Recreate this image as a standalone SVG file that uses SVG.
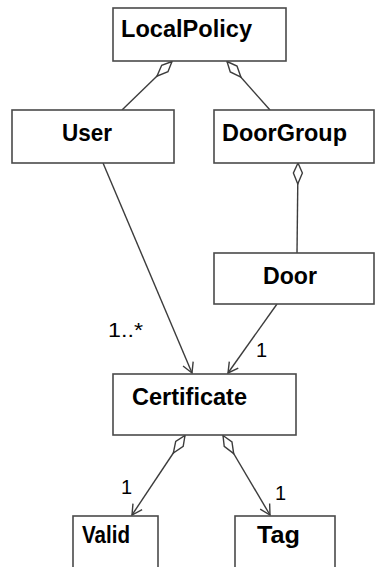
<svg xmlns="http://www.w3.org/2000/svg" width="376" height="567" viewBox="0 0 376 567">
  <style>
    .box { fill: #ffffff; stroke: #4a4a4a; stroke-width: 1.6; }
    .name { font-family: "Liberation Sans", Arial, sans-serif; font-weight: bold; font-size: 23.5px; fill: #000000; }
    .mult { font-family: "Liberation Sans", Arial, sans-serif; font-size: 20px; fill: #000000; }
    .link { fill: none; stroke: #3c3c3c; stroke-width: 1.4; }
  </style>
  <defs>
    <!-- open aggregation diamond, drawn at the whole end of a link -->
    <marker id="agg" markerUnits="userSpaceOnUse" markerWidth="24" markerHeight="12" viewBox="-1 -6 24 12" refX="0" refY="0" orient="auto">
      <path d="M0,0 L10,-4.5 L21,0 L10,4.5 Z" fill="#ffffff" stroke="#3c3c3c" stroke-width="1.4"/>
    </marker>
    <!-- open navigation arrowhead -->
    <marker id="nav" markerUnits="userSpaceOnUse" markerWidth="14" markerHeight="14" viewBox="-12 -7 14 14" refX="0" refY="0" orient="auto">
      <path d="M-10,-5.5 L0,0 L-10,5.5" fill="none" stroke="#3c3c3c" stroke-width="1.4"/>
    </marker>
  </defs>

  <rect width="376" height="567" fill="#ffffff"/>

  <g id="connectors">
    <path class="link" d="M172,61.5 L122,110" marker-start="url(#agg)"/>
    <path class="link" d="M227,61.5 L270,110" marker-start="url(#agg)"/>
    <path class="link" d="M298,163 L297,253" marker-start="url(#agg)"/>
    <path class="link" d="M103,163 L192,373" marker-end="url(#nav)"/>
    <path class="link" d="M277,304 L228,373" marker-end="url(#nav)"/>
    <path class="link" d="M185,435.5 L132,515" marker-start="url(#agg)" marker-end="url(#nav)"/>
    <path class="link" d="M223,435.5 L270,515" marker-start="url(#agg)" marker-end="url(#nav)"/>
    <text class="mult" x="108" y="337" textLength="35" lengthAdjust="spacingAndGlyphs">1..*</text>
    <text class="mult" x="256" y="357">1</text>
    <text class="mult" x="121" y="494">1</text>
    <text class="mult" x="275" y="500">1</text>
  </g>

  <g id="LocalPolicy">
    <rect class="box" x="113" y="8" width="173" height="53"/>
    <text class="name" x="121" y="37" textLength="131" lengthAdjust="spacingAndGlyphs">LocalPolicy</text>
  </g>
  <g id="User">
    <rect class="box" x="12" y="110" width="162" height="53"/>
    <text class="name" x="62" y="141" textLength="50" lengthAdjust="spacingAndGlyphs">User</text>
  </g>
  <g id="DoorGroup">
    <rect class="box" x="214" y="110" width="160" height="53"/>
    <text class="name" x="222" y="141" textLength="125" lengthAdjust="spacingAndGlyphs">DoorGroup</text>
  </g>
  <g id="Door">
    <rect class="box" x="214" y="253" width="160" height="51"/>
    <text class="name" x="263" y="284" textLength="54" lengthAdjust="spacingAndGlyphs">Door</text>
  </g>
  <g id="Certificate">
    <rect class="box" x="113" y="374" width="183" height="61"/>
    <text class="name" x="132" y="405" textLength="115" lengthAdjust="spacingAndGlyphs">Certificate</text>
  </g>
  <g id="Valid">
    <rect class="box" x="73" y="516" width="85" height="60"/>
    <text class="name" x="82" y="543" textLength="48" lengthAdjust="spacingAndGlyphs">Valid</text>
  </g>
  <g id="Tag">
    <rect class="box" x="235" y="516" width="100" height="60"/>
    <text class="name" x="257" y="543" textLength="43" lengthAdjust="spacingAndGlyphs">Tag</text>
  </g>
</svg>
